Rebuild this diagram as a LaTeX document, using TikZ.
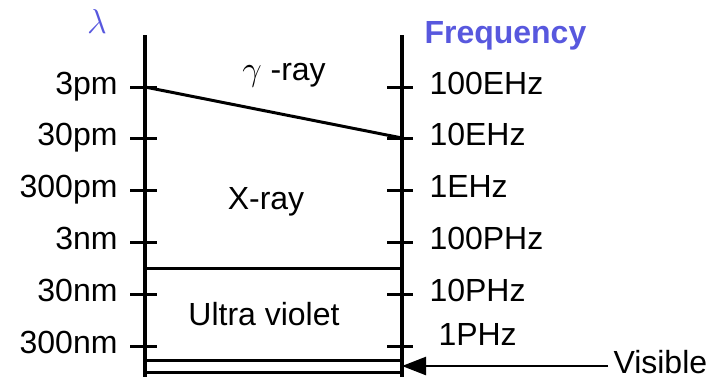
\documentclass[tikz,border=0pt]{standalone}
\usepackage{fontspec}
\setmainfont{Liberation Sans}
\usetikzlibrary{arrows.meta}
\definecolor{axisBlue}{RGB}{88,88,222}

\begin{document}
\begin{tikzpicture}[x=0.5pt, y=-0.5pt, line width=1.5pt,
    font=\fontsize{16}{19}\selectfont,
    tick/.style={line width=1.5pt},
    wlabel/.style={anchor=east, inner sep=0pt, text height=0.72em, text depth=0pt},
    flabel/.style={anchor=west, inner sep=0pt, text height=0.72em, text depth=0pt},
    band/.style={anchor=base, inner sep=0pt}]
    \useasboundingbox (0,0) rectangle (723,377);

    \coordinate (Ltop) at (145,35);
    \coordinate (Lbot) at (145,377);
    \coordinate (Rtop) at (402,35);
    \coordinate (Rbot) at (402,377);
    \draw[line width=1.8pt] (Ltop) -- (Lbot);
    \draw[line width=1.8pt] (Rtop) -- (Rbot);

    \node[text=axisBlue, inner sep=0pt, font=\fontsize{17}{19}\selectfont] (Lambda) at (97,21) {$\lambda$};
    \node[text=axisBlue, anchor=base west, inner sep=0pt, font=\fontsize{16}{19}\selectfont\bfseries] (Freq) at (423,43) {Frequency};

    \foreach \y/\wl/\fr [count=\i] in {87/3pm/100EHz, 138/30pm/10EHz, 190/300pm/1EHz,
                                       242/3nm/100PHz, 294/30nm/10PHz, 346/300nm/{}} {
        \coordinate (L\i) at (145,\y);
        \coordinate (R\i) at (402,\y);
        \draw[tick] (130,\y) -- (157,\y);
        \draw[tick] (387,\y) -- (413,\y);
        \node[wlabel] (wl\i) at (119,\y) {\wl};
        \node[flabel] (fr\i) at (428,\y) {\fr};
    }
    \node[flabel] (fr6b) at (437,338) {1PHz};

    \draw (L1) -- (R2);
    \coordinate (UVtopL) at (145,268);
    \coordinate (UVtopR) at (402,268);
    \draw (UVtopL) -- (UVtopR);
    \coordinate (VisTopL) at (145,360);
    \coordinate (VisTopR) at (402,360);
    \coordinate (VisBotL) at (145,372);
    \coordinate (VisBotR) at (402,372);
    \draw (VisTopL) -- (VisTopR);
    \draw (VisBotL) -- (VisBotR);

    \node[band] (Gamma) at (284,80) {\fontsize{18}{19}\selectfont$\gamma$\fontsize{16}{19}\selectfont{} -ray};
    \node[band] (Xray) at (266,209) {X-ray};
    \node[band] (UV) at (264,325) {Ultra violet};

    \node[anchor=base west, inner sep=2pt] (Vis) at (608,373) {Visible};
    \coordinate (VisPt) at (402,366);
    \draw[-{Triangle[length=12pt, width=9pt]}, line width=1.2pt] (Vis.west |- VisPt) -- (VisPt);
\end{tikzpicture}
\end{document}
